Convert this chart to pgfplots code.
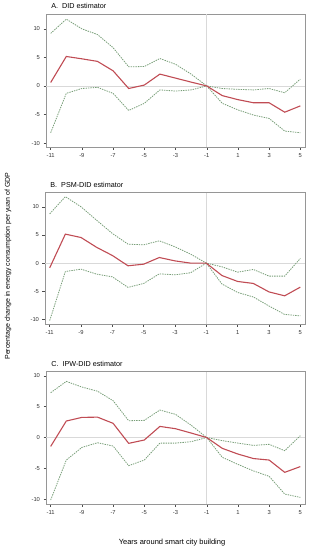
\documentclass[border=0pt]{standalone}
\usepackage{pgfplots}
\pgfplotsset{compat=1.18}
\usepackage{fontspec}
\setmainfont{Liberation Sans}
\definecolor{estred}{RGB}{192,76,84}
\definecolor{cigreen}{RGB}{120,158,120}
\definecolor{frame}{RGB}{150,150,150}
\pgfplotsset{
  panel/.style={
    scale only axis, width=259pt,
    xmin=-11.3, xmax=5.3,
    xtick={-11,-9,...,5}, ytick={-10,-5,0,5,10},
    tick align=outside, xtick pos=bottom, ytick pos=left,
    major tick length=2.5pt,
    tick style={black!70, line width=0.4pt},
    axis line style={frame, line width=0.6pt},
    ticklabel style={font=\fontsize{5.8}{6}\selectfont, text=black!80},
    /pgf/number format/assume math mode=true,
    clip=false,
  },
  est/.style={estred, line width=1.1pt, no markers},
  ci/.style={cigreen, line width=0.8pt, dash pattern=on 1.4pt off 1pt, no markers},
}
\newcommand{\refl}[1]{%
  \draw[black!15, line width=0.5pt] (axis cs:-11.3,0) -- (axis cs:5.3,0);
  \draw[black!15, line width=0.5pt] ({axis cs:-1,0}|-{rel axis cs:0,0}) -- ({axis cs:-1,0}|-{rel axis cs:0,1});
  \node[anchor=base west, inner sep=0pt, font=\fontsize{7.2}{8}\selectfont] at ([yshift=5.3pt]rel axis cs:0.02,1) {#1};
}
\begin{document}
\begin{tikzpicture}
\useasboundingbox (0,0) rectangle (310pt,-550pt);

% Panel A
\begin{axis}[panel, at={(46pt,-14pt)}, anchor=north west, height=133pt,
  ymin=-10.7, ymax=12.6]
\refl{A.\ \ DID estimator}
\addplot[ci] coordinates {(-11,9.2) (-10,11.7) (-9,10.0) (-8,9.0) (-7,6.7) (-6,3.35) (-5,3.4) (-4,4.8) (-3,3.8) (-2,2.07) (-1,0) (0,-0.45) (1,-0.6) (2,-0.7) (3,-0.45) (4,-1.2) (5,1.2)};
\addplot[ci] coordinates {(-11,-8.2) (-10,-1.3) (-9,-0.45) (-8,-0.25) (-7,-1.3) (-6,-4.3) (-5,-3.05) (-4,-0.7) (-3,-0.9) (-2,-0.7) (-1,0) (0,-3.05) (1,-4.2) (2,-5.1) (3,-5.7) (4,-7.9) (5,-8.2)};
\addplot[est] coordinates {(-11,0.6) (-10,5.16) (-9,4.75) (-8,4.3) (-7,2.65) (-6,-0.45) (-5,0.15) (-4,2.07) (-3,1.37) (-2,0.67) (-1,0) (0,-1.7) (1,-2.4) (2,-2.95) (3,-2.95) (4,-4.6) (5,-3.5)};
\end{axis}

% Panel B
\begin{axis}[panel, at={(45pt,-192.7pt)}, anchor=north west, width=260pt, height=131.3pt,
  ymin=-10.8, ymax=12.5]
\refl{B.\ \ PSM-DID estimator}
\addplot[ci] coordinates {(-11,8.75) (-10,11.8) (-9,10.0) (-8,7.6) (-7,5.27) (-6,3.37) (-5,3.25) (-4,3.96) (-3,2.9) (-2,1.6) (-1,0) (0,-0.65) (1,-1.6) (2,-1.12) (3,-2.3) (4,-2.3) (5,0.83)};
\addplot[ci] coordinates {(-11,-10.2) (-10,-1.48) (-9,-1.07) (-8,-1.95) (-7,-2.43) (-6,-4.3) (-5,-3.6) (-4,-1.9) (-3,-2.07) (-2,-1.7) (-1,0) (0,-3.7) (1,-5.2) (2,-6.0) (3,-7.6) (4,-9.1) (5,-9.35)};
\addplot[est] coordinates {(-11,-0.83) (-10,5.15) (-9,4.55) (-8,2.8) (-7,1.36) (-6,-0.47) (-5,-0.18) (-4,1.0) (-3,0.4) (-2,0) (-1,0) (0,-2.2) (1,-3.25) (2,-3.6) (3,-5.1) (4,-5.8) (5,-4.26)};
\end{axis}

% Panel C
\begin{axis}[panel, at={(46pt,-371.7pt)}, anchor=north west, height=132.6pt,
  ymin=-10.8, ymax=10.65]
\refl{C.\ \ IPW-DID estimator}
\addplot[ci] coordinates {(-11,7.25) (-10,9.08) (-9,8.17) (-8,7.5) (-7,5.96) (-6,2.72) (-5,2.78) (-4,4.45) (-3,3.75) (-2,2.0) (-1,0) (0,-0.5) (1,-0.9) (2,-1.27) (3,-1.1) (4,-2.13) (5,0.3)};
\addplot[ci] coordinates {(-11,-10.1) (-10,-3.64) (-9,-1.6) (-8,-0.84) (-7,-1.37) (-6,-4.55) (-5,-3.64) (-4,-0.9) (-3,-0.9) (-2,-0.67) (-1,0) (0,-3.2) (1,-4.34) (2,-5.4) (3,-6.27) (4,-9.14) (5,-9.68)};
\addplot[est] coordinates {(-11,-1.43) (-10,2.67) (-9,3.26) (-8,3.3) (-7,2.3) (-6,-0.94) (-5,-0.4) (-4,1.8) (-3,1.43) (-2,0.73) (-1,0) (0,-1.75) (1,-2.67) (2,-3.4) (3,-3.64) (4,-5.63) (5,-4.7)};
\end{axis}

\node[font=\fontsize{7.5}{8}\selectfont] at (172pt,-543pt) {Years around smart city building};
\node[font=\fontsize{7}{8}\selectfont, rotate=90] at (8pt,-266pt) {Percentage change in energy consumption per yuan of GDP};
\end{tikzpicture}
\end{document}
